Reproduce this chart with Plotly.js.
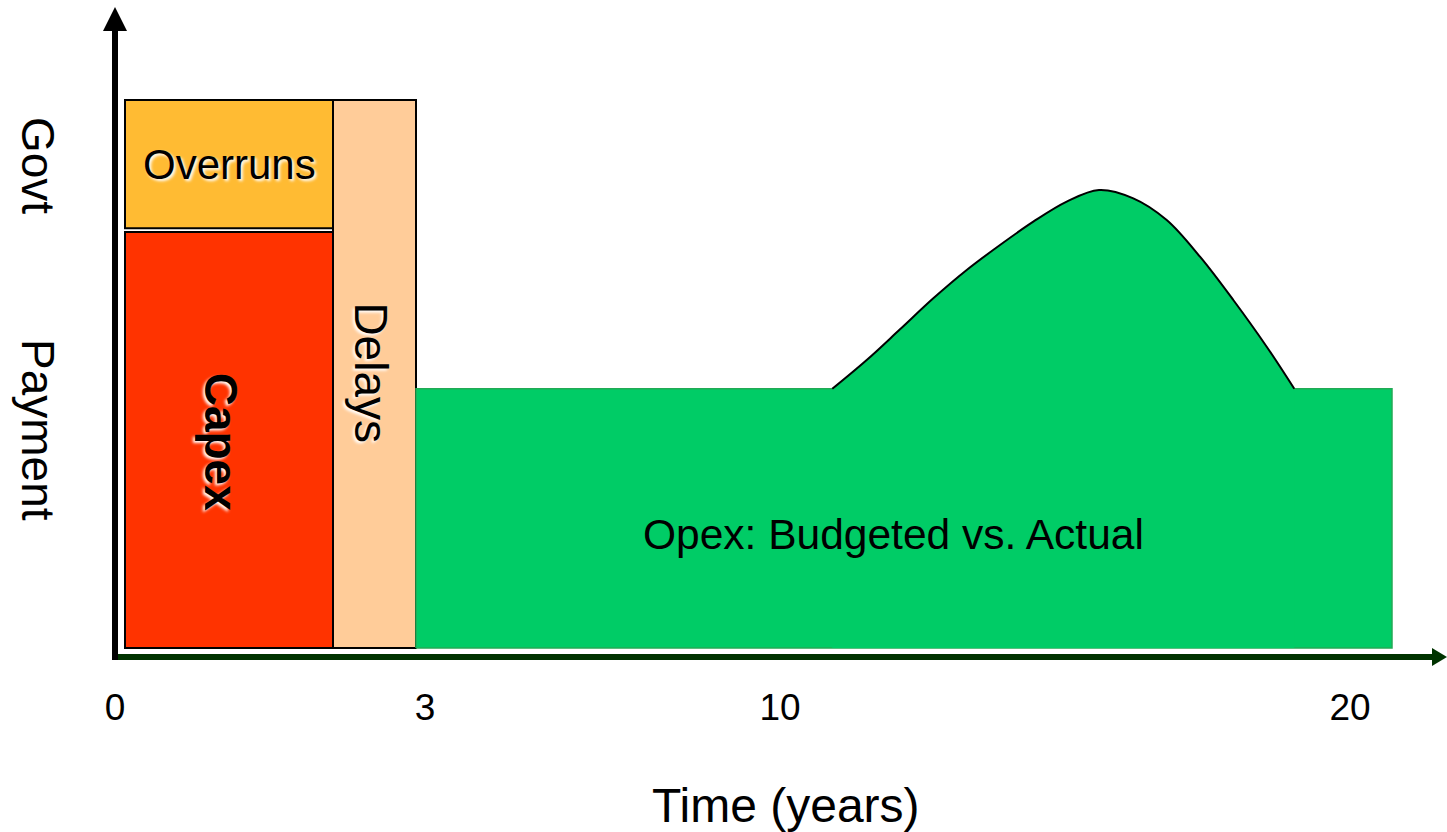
<!DOCTYPE html>
<html>
<head>
<meta charset="utf-8">
<script src="https://cdn.plot.ly/plotly-3.0.1.min.js"></script>
<style>
  html, body { margin: 0; padding: 0; background: #ffffff; }
  #chart { width: 1447px; height: 832px; }
</style>
</head>
<body>
<div id="chart"></div>
<script>
// ---- Data (diagram units: x = schematic time, y = payment level) ----
const blockNames  = ['Capex', 'Overruns', 'Delays'];
const blockStart  = [1.0, 1.0, 21.8];
const blockEnd    = [21.8, 21.8, 30.1];
const blockBottom = [0, 76.6, 0];
const blockTop    = [75.9, 100, 100];
const blockColors = ['#FF3300', '#FFBB33', '#FFCC99'];

// Opex baseline (budgeted) level and span
const opexStart = 30.1;
const opexEnd   = 127.7;
const opexLevel = 47.3;

// Opex actual (bump above budget)
const bumpX = [71.73, 75.17, 78.5, 81.83, 85.17, 88.5, 91.83, 95.17, 98.4, 101.83, 105.17, 108.5, 111.83, 115.17, 117.93];
const bumpY = [47.3, 52.55, 58.15, 63.81, 68.98, 73.54, 77.79, 81.45, 83.58, 82.06, 78.10, 71.40, 63.50, 54.98, 47.3];

// Tick labels
const tickPos    = [0, 31, 66.5, 123.5];
const tickLabels = ['0', '3', '10', '20'];

// ---- Traces ----
const FONT = 'Arial, "Liberation Sans", sans-serif';
const W = 1447, H = 832;
const px = p => p / W;          // paper x from pixel
const py = p => 1 - p / H;      // paper y from pixel

const opexRect = {
  type: 'scatter', mode: 'lines',
  x: [opexStart, opexStart, opexEnd, opexEnd, opexStart],
  y: [0, opexLevel, opexLevel, 0, 0],
  fill: 'toself', fillcolor: '#00CC66',
  line: { color: '#22AA55', width: 1.5 },
  hoverinfo: 'skip', showlegend: false
};

const bump = {
  type: 'scatter', mode: 'lines',
  x: bumpX, y: bumpY,
  fill: 'tozeroy', fillcolor: '#00CC66',
  line: { color: '#000000', width: 2, shape: 'spline', smoothing: 1 },
  hoverinfo: 'skip', showlegend: false
};

const blocks = {
  type: 'bar',
  x: blockStart.map((s, i) => (s + blockEnd[i]) / 2),
  width: blockStart.map((s, i) => blockEnd[i] - s),
  base: blockBottom,
  y: blockTop.map((t, i) => t - blockBottom[i]),
  marker: { color: blockColors, line: { color: '#000000', width: 2 } },
  hoverinfo: 'skip', showlegend: false
};

const glow = '2px 2px 3px #ffffff';
const mid = i => (blockStart[i] + blockEnd[i]) / 2;
const vmid = i => (blockBottom[i] + blockTop[i]) / 2;
const C = { xanchor: 'center', yanchor: 'middle', showarrow: false };

const annotations = [
  Object.assign({ x: mid(1), y: vmid(1), xref: 'x', yref: 'y', text: 'Overruns',
    font: { family: FONT, size: 42, color: '#000', shadow: glow } }, C),
  Object.assign({ x: mid(0) - 0.8, y: vmid(0) - 0.3, xref: 'x', yref: 'y', text: '<b>Capex</b>', textangle: 90,
    font: { family: FONT, size: 46, color: '#000', shadow: glow } }, C),
  Object.assign({ x: mid(2) - 0.3, y: 50.2, xref: 'x', yref: 'y', text: 'Delays', textangle: 90,
    font: { family: FONT, size: 46, color: '#000', shadow: glow } }, C),
  Object.assign({ x: 77.8, y: 20.8, xref: 'x', yref: 'y', text: 'Opex: Budgeted vs. Actual',
    font: { family: FONT, size: 42.5, color: '#000' } }, C),
  Object.assign({ x: px(786), y: py(805), xref: 'paper', yref: 'paper', text: 'Time (years)',
    font: { family: FONT, size: 48, color: '#000' } }, C),
  Object.assign({ x: px(38), y: py(165), xref: 'paper', yref: 'paper', text: 'Govt', textangle: 90,
    font: { family: FONT, size: 46, color: '#000' } }, C),
  Object.assign({ x: px(38), y: py(430), xref: 'paper', yref: 'paper', text: 'Payment', textangle: 90,
    font: { family: FONT, size: 46, color: '#000' } }, C)
];

const shapes = [
  // y axis line and arrow head
  { type: 'line', xref: 'paper', yref: 'paper', x0: px(115), x1: px(115), y0: py(660), y1: py(30),
    line: { color: '#000000', width: 6 } },
  { type: 'path', xref: 'paper', yref: 'paper',
    path: `M ${px(103)} ${py(31)} L ${px(115)} ${py(7)} L ${px(127)} ${py(31)} Z`,
    fillcolor: '#000000', line: { width: 0 } },
  // x axis line and arrow head
  { type: 'line', xref: 'paper', yref: 'paper', x0: px(118), x1: px(1434), y0: py(657), y1: py(657),
    line: { color: '#003300', width: 6 } },
  { type: 'path', xref: 'paper', yref: 'paper',
    path: `M ${px(1432)} ${py(648)} L ${px(1447)} ${py(657)} L ${px(1432)} ${py(666)} Z`,
    fillcolor: '#003300', line: { width: 0 } }
];

const layout = {
  width: W, height: H,
  margin: { l: 0, r: 0, t: 0, b: 0, pad: 0 },
  paper_bgcolor: '#ffffff', plot_bgcolor: '#ffffff',
  barmode: 'overlay',
  showlegend: false,
  xaxis: {
    range: [-11.5, 133.2], domain: [0, 1],
    anchor: 'free', position: py(682),
    showgrid: false, zeroline: false, showline: false, ticks: '',
    tickmode: 'array', tickvals: tickPos, ticktext: tickLabels,
    tickfont: { family: FONT, size: 37, color: '#000' },
    fixedrange: true
  },
  yaxis: {
    range: [-33.58, 118.25], domain: [0, 1],
    showgrid: false, zeroline: false, showline: false, showticklabels: false, ticks: '',
    fixedrange: true
  },
  shapes: shapes,
  annotations: annotations
};

Plotly.newPlot('chart', [opexRect, bump, blocks], layout, { staticPlot: true, displayModeBar: false });
</script>
</body>
</html>
